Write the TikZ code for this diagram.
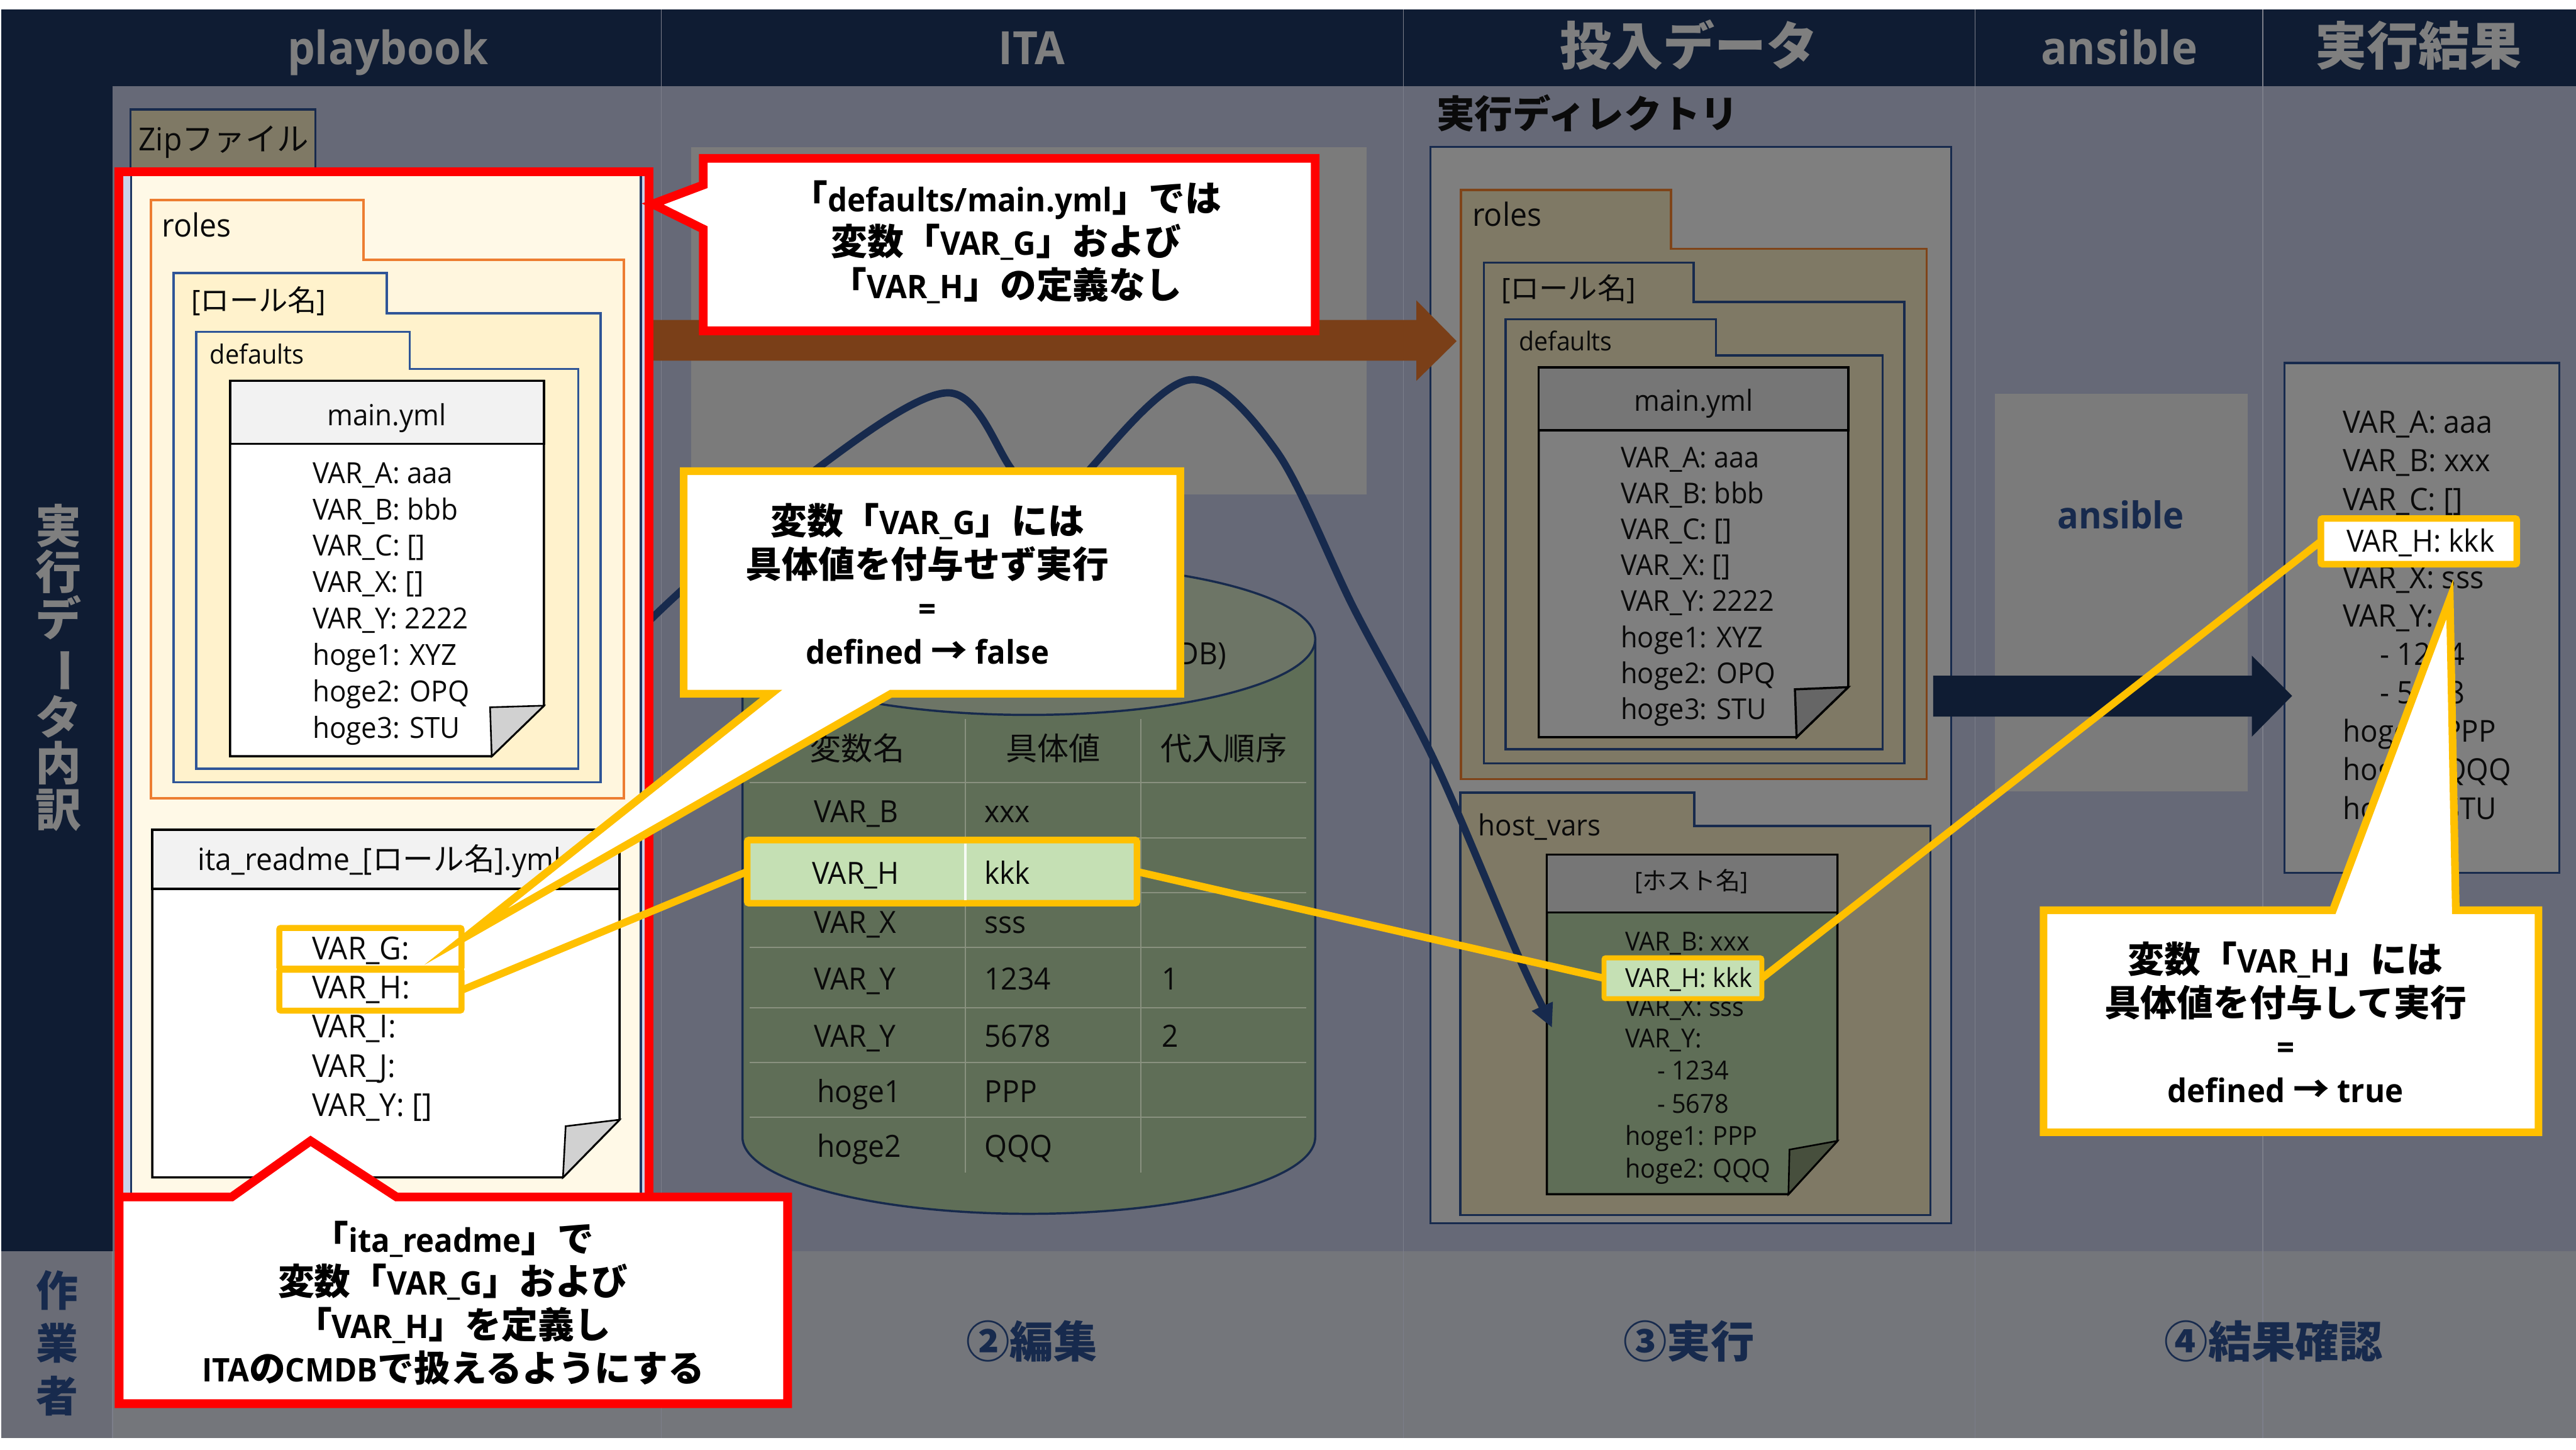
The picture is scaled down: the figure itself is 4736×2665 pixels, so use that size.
\documentclass[tikz,border=0pt]{standalone}
\usepackage{fontspec}
\setmainfont{Open Sans}[FakeStretch=0.95]
\newfontfamily\cjkfont{Noto Sans CJK JP}
\newcommand\J[1]{{\cjkfont #1}}
\newcommand\JB[1]{{\cjkfont\fontsize{19}{22.6}\selectfont #1}}
\catcode`\_=12
\definecolor{hdr}{HTML}{0F1C33}
\definecolor{panel}{HTML}{666977}
\definecolor{band}{HTML}{74767B}
\definecolor{bandl}{HTML}{6A6C76}
\definecolor{colline}{HTML}{7C7E8A}
\definecolor{gbox}{HTML}{7B7B7B}
\definecolor{gexec}{HTML}{7F7F7F}
\definecolor{gfile}{HTML}{767676}
\definecolor{gfold}{HTML}{666666}
\definecolor{fold}{HTML}{7F7965}
\definecolor{ordim}{HTML}{7F4419}
\definecolor{navy}{HTML}{172A4D}
\definecolor{brown}{HTML}{7A3F18}
\definecolor{zip}{HTML}{FFF9E7}
\definecolor{rolesf}{HTML}{FFF6DE}
\definecolor{inner}{HTML}{FFF2CC}
\definecolor{orng}{HTML}{ED7D31}
\definecolor{blu}{HTML}{2F5597}
\definecolor{halo}{HTML}{C9D3EA}
\definecolor{dbbody}{HTML}{5F6E57}
\definecolor{dbtop}{HTML}{6D7566}
\definecolor{dbgrid}{HTML}{89917F}
\definecolor{dbfold}{HTML}{474F3D}
\definecolor{grn}{HTML}{C5E0B4}
\definecolor{ylw}{HTML}{FFC000}
\definecolor{hdrtxt}{HTML}{7F7F7F}
\definecolor{ink}{HTML}{0A0A0A}
\tikzset{
  T/.style={font=\fontsize{#1}{#1}\selectfont, inner sep=0pt, outer sep=0pt, anchor=west,
    text height=\dimexpr#1pt*714/1000\relax, text depth=0pt, text=ink},
  C/.style={T=#1, anchor=center},
  H/.style={font=\fontsize{#1}{#1}\selectfont\bfseries, inner sep=0pt, outer sep=0pt, anchor=center,
    text height=\dimexpr#1pt*714/1000\relax, text depth=0pt, text=hdrtxt},
  L/.style={font=\fontsize{#1}{#1}\selectfont\bfseries, inner sep=0pt, outer sep=0pt, anchor=center,
    text height=\dimexpr#1pt*714/1000\relax, text depth=0pt, text=navy},
  CT/.style={font=\fontsize{#1}{22.6}\selectfont\bfseries, inner sep=0pt, outer sep=0pt, anchor=center, align=center, text=black},
  fol/.style={line width=.4mm},
  doc/.style={line width=.4mm, draw=black},
  redc/.style={draw=red, fill=white, line width=1.6mm, miter limit=20},
  ylwc/.style={draw=ylw, fill=white, line width=1.4mm, miter limit=20},
  ylink/.style={draw=ylw, line width=1.35mm},
  hl/.style={draw=ylw, line width=#1, rounded corners=.3mm, inner sep=0pt, outer sep=0pt},
  dbl/.style={draw=dbgrid, line width=.25mm},
  boxn/.style={draw=navy, line width=.4mm},
}
% x1 x2 top tabright step bottom style
\newcommand\folder[7]{\path[#7] (#1,#6)--(#1,#3)--(#4,#3)--(#4,#5)--(#2,#5)--(#2,#6)--cycle;}
% prefix x y0 pitch size list
\newcommand\lst[6]{\foreach \t [count=\i] in {#6}{\node[T=#5] (#1\i) at (#2,{#3+(\i-1)*#4}) {\t};}}
\begin{document}
\begin{tikzpicture}[x=0.01cm,y=-0.01cm]
\useasboundingbox (0,0) rectangle (4736,2665);
% backgrounds
\fill[hdr] (2,17) rectangle (4736,2300);
\fill[panel] (207,158) rectangle (4736,2300);
\fill[bandl] (2,2300) rectangle (207,2643);
\fill[band] (207,2300) rectangle (4736,2643);
\foreach \x in {1216,2580,3631,4160}{\draw[colline,line width=.15mm] (\x,17)--(\x,2643);}
\draw[colline,line width=.15mm] (207,2300)--(207,2643);
% header labels
\node[H=24] (hPlay) at (713,88) {playbook};
\node[H=24] (hIta) at (1897,88) {ITA};
\node[H=27] (hData) at (3105,86) {\J{投入データ}};
\node[H=24] (hAns) at (3896,88) {ansible};
\node[H=27] (hRes) at (4446,86) {\J{実行結果}};
\node[font=\fontsize{24}{24.1}\selectfont\bfseries,text=hdrtxt,align=center,inner sep=0pt] (hSide) at (108,1227)
  {\J{実}\\\J{行}\\\J{デ}\\\rotatebox[origin=c]{-90}{\J{ー}}\\\J{タ}\\\J{内}\\\J{訳}};
\node[font=\fontsize{22}{27.6}\selectfont\bfseries,text=navy,align=center,inner sep=0pt] (hWork) at (105,2469)
  {\J{作}\\\J{業}\\\J{者}};
\node[L=22.8] (s2) at (1897,2467) {\J{②編集}};
\node[L=22.8] (s3) at (3105,2467) {\J{③実行}};
\node[L=22.8] (s4) at (4180,2467) {\J{④結果確認}};
% zip tab
\draw[boxn,fill=fold] (240,201) rectangle (580,330);
\node[T=16.6] (zipLbl) at (255,256) {Zip\J{ファイル}};
% ITA grey box
\fill[gbox] (1271,271) rectangle (2512,909);
% exec dir
\node[T=19.9,font=\fontsize{19.9}{19.9}\selectfont\bfseries] (eTitle) at (2641,210) {\J{実行ディレクトリ}};
\draw[boxn,fill=gexec] (2630,270) rectangle (3587,2248);
\folder{2686}{3542}{349}{3072}{457}{1432}{fol,draw=ordim,fill=fold}
\node[T=16.7] (eRoles) at (2707,395) {roles};
\folder{2728}{3501}{483}{3114}{555}{1403}{fol,draw=navy,fill=fold}
\node[T=15.2] (eRole) at (2760,531) {[\J{ロール名}]};
\folder{2768}{3461}{587}{3155}{653}{1377}{fol,draw=navy,fill=fold}
\node[T=13.6] (eDef) at (2793,627) {defaults};
\path[doc,fill=gexec] (2829,675)--(3398,675)--(3398,1263)--(3303,1355)--(2829,1355)--cycle;
\path[doc,fill=gfile] (2829,675) rectangle (3398,791);
\path[doc,fill=gfold] (3303,1355)--(3300,1267)--(3398,1263)--cycle;
\node[C=15.2] (eMain) at (3114,737) {main.yml};
\lst{eL}{2980}{841}{66}{15}{VAR_A: aaa,VAR_B: bbb,VAR_C: [],VAR_X: [],VAR_Y: 2222,hoge1: XYZ,hoge2: OPQ,hoge3: STU}
% host vars
\folder{2685}{3549}{1457}{3115}{1518}{2233}{fol,draw=navy,fill=fold}
\node[T=15.2] (eHost) at (2718,1517) {host_vars};
\path[doc,fill=dbbody] (2844,1571)--(3378,1571)--(3378,2097)--(3288,2195)--(2844,2195)--cycle;
\path[doc,fill=gfile] (2844,1571) rectangle (3378,1677);
\path[doc,fill=dbfold,line width=.3mm] (3288,2195)--(3290,2113)--(3378,2097)--cycle;
\node[C=12.8] (eHostN) at (3110,1619) {[\J{ホスト名}]};
\node[T=13.7] (hv1) at (2988,1730) {VAR_B: xxx};
\node[T=13.7] (hv3) at (2988,1851) {VAR_X: sss};
\node[T=13.7] (hv4) at (2988,1908) {VAR_Y:};
\node[T=13.7] (hv5) at (3047,1968) {- 1234};
\node[T=13.7] (hv6) at (3047,2029) {- 5678};
\node[T=13.7] (hv7) at (2988,2088) {hoge1: PPP};
\node[T=13.7] (hv8) at (2988,2148) {hoge2: QQQ};
% DB
\path[draw=navy,line width=.4mm,fill=dbbody] (1365,1175)--(1365,2090)
  .. controls (1365,2168) and (1601,2231) .. (1891,2231)
  .. controls (2182,2231) and (2418,2168) .. (2418,2090)--(2418,1175)--cycle;
\path[draw=navy,line width=.4mm,fill=dbtop] (1891,1175) ellipse [x radius=527, y radius=139];
\node[T=16,anchor=east] (dbT) at (2255,1202) {(CMDB)};
\draw[dbl] (1775,1321)--(1775,2155);
\draw[dbl] (2097,1321)--(2097,2155);
\foreach \y in {1438,1540,1641,1741,1852,1953,2053}{\draw[dbl] (1378,\y)--(2402,\y);}
\node[C=16.5] (th1) at (1576,1377) {\J{変数名}};
\node[C=16.5] (th2) at (1936,1377) {\J{具体値}};
\node[C=16.5] (th3) at (2250,1377) {\J{代入順序}};
\node[T=16] (r1a) at (1497,1492) {VAR_B};
\node[T=16] (r1b) at (1810,1492) {xxx};
\node[T=16] (r3a) at (1497,1695) {VAR_X};
\node[T=16] (r3b) at (1810,1695) {sss};
\node[T=16] (r4a) at (1497,1799) {VAR_Y};
\node[T=16] (r4b) at (1810,1799) {1234};
\node[T=16] (r4c) at (2136,1799) {1};
\node[T=16] (r5a) at (1497,1904) {VAR_Y};
\node[T=16] (r5b) at (1810,1904) {5678};
\node[T=16] (r5c) at (2136,1904) {2};
\node[T=16] (r6a) at (1502,2006) {hoge1};
\node[T=16] (r6b) at (1810,2006) {PPP};
\node[T=16] (r7a) at (1502,2107) {hoge2};
\node[T=16] (r7b) at (1810,2107) {QQQ};
% ansible box and result box
\fill[gbox] (3667,724) rectangle (4132,1455);
\node[font=\fontsize{19.4}{19.4}\selectfont\bfseries,text=navy,inner sep=0pt] (ansL) at (3899,946) {ansible};
\draw[boxn,fill=gexec] (4200,667) rectangle (4705,1604);
\lst{rA}{4308}{776}{70.7}{16.2}{VAR_A: aaa,VAR_B: xxx,VAR_C: []}
\lst{rB}{4308}{1061}{71}{16.2}{VAR_X: sss,VAR_Y:}
\lst{rC}{4376}{1202}{71}{16.2}{- 1234,- 5678}
\lst{rD}{4308}{1344}{71}{15.8}{hoge1: PPP,hoge2: QQQ,hoge3: STU}
% big arrows
\fill[brown] (1170,588)--(2604,588)--(2604,552)--(2678,627)--(2604,700)--(2604,663)--(1170,663)--cycle;
\fill[hdr] (3554,1242)--(4140,1242)--(4140,1205)--(4214,1279)--(4140,1354)--(4140,1317)--(3554,1317)--cycle;
% navy curve
\coordinate (cS) at (1170,1165);
\coordinate (cE) at (2853,1888);
\draw[navy,line width=1.35mm,line join=round] plot[smooth,tension=.55] coordinates {(cS) (1250,1088) (1504,860) (1743,722) (1858,860) (1930,985) (2006,860) (2188,698) (2346,828) (2490,1120) (2638,1400) (2791,1756) (2845,1868)};
\fill[navy] (cE)--(2855,1841)--(2816,1858)--cycle;
% zip with red frame
\fill[halo] (219,316) rectangle (1193,2205);
\draw[navy!70!blu,line width=.4mm,fill=zip] (241,316) rectangle (1178,2215);
\folder{278}{1147}{368}{668}{477}{1467}{fol,line width=.45mm,draw=orng,fill=rolesf}
\node[T=16.7] (lRoles) at (298,414) {roles};
\folder{319}{1104}{502}{711}{576}{1438}{fol,draw=blu,fill=inner}
\node[T=15.2] (lRole) at (352,553) {[\J{ロール名}]};
\folder{361}{1063}{610}{753}{678}{1413}{fol,draw=blu,fill=inner}
\node[T=13.8] (lDef) at (386,651) {defaults};
\path[doc,fill=white] (423,700)--(1000,700)--(1000,1297)--(904,1390)--(423,1390)--cycle;
\path[doc,fill=black!5] (423,700) rectangle (1000,816);
\path[doc,fill=black!18,line width=.3mm] (904,1390)--(901,1300)--(1000,1297)--cycle;
\node[C=15.2] (lMain) at (711,763) {main.yml};
\lst{lL}{575}{869}{67}{15.2}{VAR_A: aaa,VAR_B: bbb,VAR_C: [],VAR_X: [],VAR_Y: 2222,hoge1: XYZ,hoge2: OPQ,hoge3: STU}
\path[doc,fill=white] (280,1525)--(1139,1525)--(1139,2058)--(1035,2164)--(280,2164)--cycle;
\path[doc,fill=black!5] (280,1525) rectangle (1139,1634);
\path[doc,fill=black!18,line width=.3mm] (1035,2164)--(1040,2070)--(1139,2058)--cycle;
\node[T=16] (lIta) at (364,1580) {ita_readme_[\J{ロール名}].yml};
\lst{lI}{574}{1743}{72}{16.5}{VAR_G:,VAR_H:,VAR_I:,VAR_J:,VAR_Y: []}
\node[hl=1.1mm,minimum width=3.35cm,minimum height=.75cm] (boxG) at (681,1743) {};
\node[hl=1.1mm,minimum width=3.35cm,minimum height=.75cm] (boxH) at (681,1820) {};
\draw[red,line width=1.6mm] (219,316) rectangle (1193,2215);
% db highlight
\node[hl=1.2mm,fill=grn,minimum width=7.16cm,minimum height=1.16cm] (dbH) at (1732,1602) {};
\draw[white!85!grn,line width=.4mm] (1775,1550)--(1775,1654);
\node[T=16] (r2a) at (1493,1605) {VAR_H};
\node[T=16] (r2b) at (1810,1605) {kkk};
% host highlight
\node[hl=.9mm,fill=grn,minimum width=2.9cm,minimum height=.75cm] (hostH) at (3094,1798) {};
\node[T=13.7] (hv2) at (2988,1798) {VAR_H: kkk};
% result highlight
\node[hl=1.2mm,fill=white,minimum width=3.6cm,minimum height=.84cm] (resH) at (4447,995) {};
\node[T=16] (rH) at (4314,994) {VAR_H: kkk};
% yellow links
\draw[ylink] (boxH.east)--(dbH.west);
\draw[ylink] (dbH.east)--(hostH.west);
\draw[ylink] (hostH.east)--(resH.west);
% red callout top
\path[redc] (1293,291)--(2418,291)--(2418,608)--(1293,608)--(1293,421)--(1200,375)--(1293,340)--cycle;
\node[CT=17] (c1) at (1850,445) {\JB{「}defaults/main.yml\JB{」では}\\\JB{変数「}VAR_G\JB{」および}\\\JB{「}VAR_H\JB{」の定義なし}};
% red callout bottom
\path[redc] (219,2200)--(426,2200)--(571,2097)--(729,2200)--(1448,2200)--(1448,2580)--(219,2580)--cycle;
\node[CT=17] (c2) at (833,2395) {\JB{「}ita_readme\JB{」で}\\\JB{変数「}VAR_G\JB{」および}\\\JB{「}VAR_H\JB{」を定義し}\\ITA\JB{の}CMDB\JB{で扱えるようにする}};
% yellow callout 1
\coordinate (tipG) at (856,1722);
\path[ylwc] (1257,866)--(2170,866)--(2170,1275)--(1638,1275)--(tipG)--(1418,1275)--(1257,1275)--cycle;
\node[CT=17] (c3) at (1705,1073) {\JB{変数「}VAR_G\JB{」には}\\\JB{具体値を付与せず実行}\\=\\defined \JB{→} false};
% yellow callout 2
\path[ylwc] (3757,1673)--(4289,1673)--(4504,1101)--(4515,1673)--(4667,1673)--(4667,2081)--(3757,2081)--cycle;
\node[CT=17] (c4) at (4202,1879) {\JB{変数「}VAR_H\JB{」には}\\\JB{具体値を付与して実行}\\=\\defined \JB{→} true};
\end{tikzpicture}
\end{document}
